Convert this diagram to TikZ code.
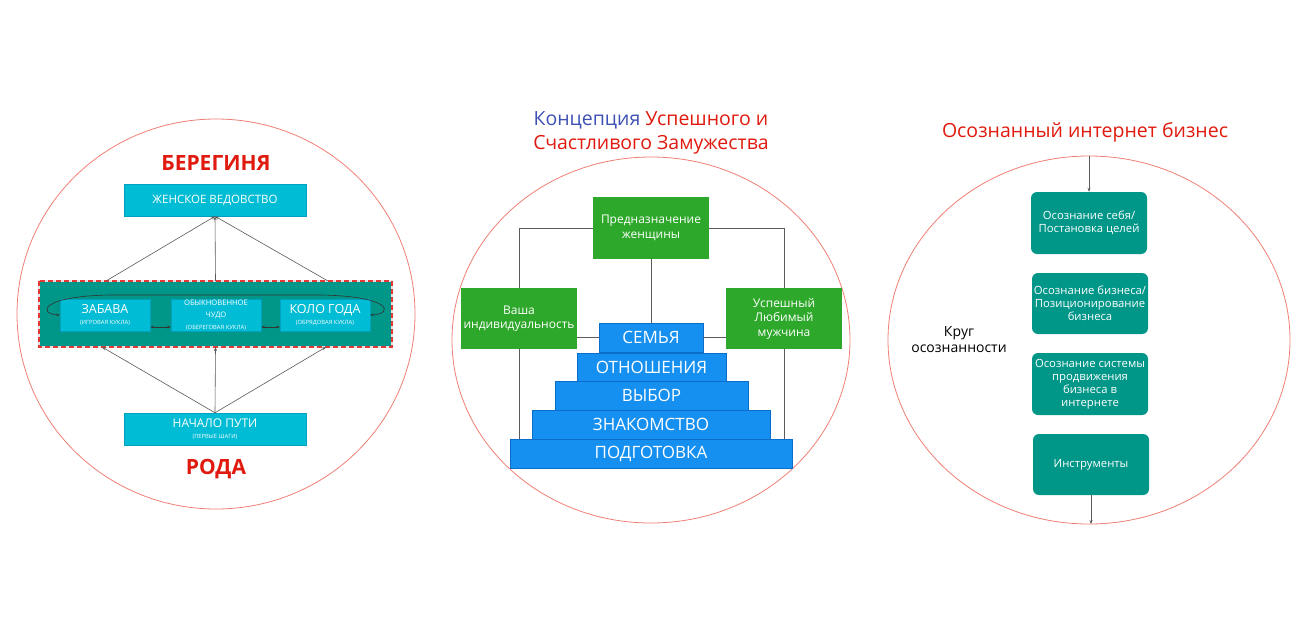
\documentclass[tikz,border=0pt]{standalone}
\usepackage{fontspec}
\setmainfont{Open Sans}
\usetikzlibrary{arrows.meta,calc}
\definecolor{circ}{RGB}{240,128,118}
\definecolor{cyanbox}{RGB}{0,188,212}
\definecolor{cyanedge}{RGB}{0,160,190}
\definecolor{tealbox}{RGB}{0,150,136}
\definecolor{dashred}{RGB}{229,57,53}
\definecolor{greenbox}{RGB}{46,168,42}
\definecolor{bluebox}{RGB}{22,144,240}
\definecolor{bluedge}{RGB}{10,110,200}
\definecolor{titlered}{RGB}{224,26,14}
\definecolor{titleblue}{RGB}{63,81,181}
\definecolor{linegray}{RGB}{90,90,90}
\newcommand\myfs[2]{\fontsize{#1}{#2}\selectfont}
\begin{document}
\begin{tikzpicture}[x=1pt,y=-1pt,
  ring/.style={draw=circ, line width=0.8pt},
  cbox/.style={rectangle, fill=cyanbox, draw=cyanedge, line width=0.5pt, text=white, align=center, inner sep=0pt},
  gbox/.style={rectangle, fill=greenbox, text=white, align=center, inner sep=0pt},
  bbox/.style={rectangle, fill=bluebox, draw=bluedge, line width=0.4pt, text=white, align=center, inner sep=0pt, font=\myfs{17}{20}},
  tbox/.style={rectangle, rounded corners=6pt, fill=tealbox, text=white, align=center, inner sep=0pt, minimum width=116pt, font=\myfs{11.3}{13}},
  conn/.style={draw=linegray, line width=0.7pt},
  arr/.style={draw=linegray, line width=0.6pt, -{Stealth[length=4pt,width=3pt]}},
  darr/.style={draw=black!80, line width=0.6pt, {Stealth[length=3.5pt,width=2.5pt]}-{Stealth[length=3.5pt,width=2.5pt]}},
  ttl/.style={align=center, inner sep=0pt}
]
\useasboundingbox (0,0) rectangle (1313,616);
\fill[white] (0,0) rectangle (1313,616);

% ---------- circles ----------
\draw[ring] (216,314) ellipse (199 and 195);
\draw[ring] (651,340) ellipse (199 and 183);
\draw[ring] (1089,340) ellipse (201 and 184);

% ---------- left diagram ----------
\node[ttl, text=titlered, font=\myfs{21}{24}\bfseries] (ber) at (216,163) {БЕРЕГИНЯ};
\node[cbox, minimum width=182pt, minimum height=32pt, font=\myfs{11.5}{13}] (wv) at (215,200) {ЖЕНСКОЕ ВЕДОВСТВО};
\node[rectangle, fill=tealbox, draw=black!10, line width=1.2pt, outer sep=0pt, minimum width=353pt, minimum height=66pt, inner sep=0pt] (cont) at (215.5,314) {};
\draw[dashred, line width=1.2pt, dash pattern=on 5pt off 3pt] (cont.north west) rectangle (cont.south east);
\node[cbox, minimum width=90pt, minimum height=32pt] (zab) at (105,315) {\myfs{12.5}{14}ЗАБАВА\\[-1pt]\myfs{5.8}{7}(ИГРОВАЯ КУКЛА)};
\node[cbox, minimum width=90pt, minimum height=32pt] (chu) at (216,315) {\myfs{7.6}{9}ОБЫКНОВЕННОЕ\\\myfs{7.6}{9}ЧУДО\\\myfs{5.8}{7}(ОБЕРЕГОВАЯ КУКЛА)};
\node[cbox, minimum width=90pt, minimum height=32pt] (kol) at (325,315) {\myfs{12.5}{14}КОЛО ГОДА\\[-1pt]\myfs{5.8}{7}(ОБРЯДОВАЯ КУКЛА)};
\node[cbox, minimum width=182pt, minimum height=32pt] (nac) at (215,429) {\myfs{12}{14}НАЧАЛО ПУТИ\\[-1pt]\myfs{5.8}{7}(ПЕРВЫЕ ШАГИ)};
\node[ttl, text=titlered, font=\myfs{21}{24}\bfseries] (rod) at (216,469) {РОДА};

\coordinate (t1) at (106,281);
\coordinate (t3) at (328,281);
\draw[arr] (t1) -- (wv.south);
\draw[arr] (cont.north) -- (wv.south);
\draw[arr] (t3) -- (wv.south);

\coordinate (b1) at (102,347);
\coordinate (b3) at (326,347);
\draw[arr] (nac.north) -- (b1);
\draw[arr] (nac.north) -- (cont.south);
\draw[arr] (nac.north) -- (b3);

\draw[darr] (zab.east |- 0,327) -- (chu.west |- 0,327);
\draw[darr] (chu.east |- 0,327) -- (kol.west |- 0,327);
\draw[darr] (zab.west) .. controls (38,314) and (40,296) .. (110,295) -- (320,295) .. controls (392,296) and (394,314) .. (kol.east);

% ---------- middle diagram ----------
\node[ttl, font=\myfs{19.5}{23.5}, text=titlered] (mt) at (651,133) {\textcolor{titleblue}{Концепция} Успешного и\\Счастливого Замужества};
\node[gbox, minimum width=116pt, minimum height=62pt, font=\myfs{12}{14.5}] (pn) at (651,228) {Предназначение\\женщины};
\node[gbox, minimum width=116pt, minimum height=61pt, font=\myfs{12}{14.5}] (ind) at (519,318.5) {Ваша\\индивидуальность};
\node[gbox, minimum width=116pt, minimum height=61pt, font=\myfs{12}{14.5}] (man) at (784,318.5) {Успешный\\Любимый\\мужчина};
\node[bbox, minimum width=104pt, minimum height=29pt] (sem) at (651,337.5) {СЕМЬЯ};
\node[bbox, minimum width=149pt, minimum height=28.5pt] (otn) at (651.5,367) {ОТНОШЕНИЯ};
\node[bbox, minimum width=193pt, minimum height=29pt] (vyb) at (651.5,395.5) {ВЫБОР};
\node[bbox, minimum width=238pt, minimum height=29pt] (zna) at (651,424.5) {ЗНАКОМСТВО};
\node[bbox, minimum width=282pt, minimum height=29pt] (pod) at (651,453.5) {ПОДГОТОВКА};

\draw[conn] (pn.west) -| (ind.north);
\draw[conn] (pn.east) -| (man.north);
\draw[conn] (pn.south) -- (sem.north);
\draw[conn] (ind.east |- sem.west) -- (sem.west);
\draw[conn] (sem.east) -- (man.west |- sem.east);
\draw[conn] (ind.south) -- (ind.south |- pod.north);
\draw[conn] (man.south) -- (man.south |- pod.north);

% ---------- right diagram ----------
\node[ttl, text=titlered, font=\myfs{19.5}{23}] (rt) at (1085,132) {Осознанный интернет бизнес};
\node[tbox, minimum height=62pt] (r1) at (1089,223) {Осознание себя/\\Постановка целей};
\node[tbox, minimum height=61pt] (r2) at (1090,303.5) {Осознание бизнеса/\\Позиционирование\\бизнеса};
\node[tbox, minimum height=62pt] (r3) at (1090,384) {Осознание системы\\продвижения\\бизнеса в\\интернете};
\node[tbox, minimum height=61pt] (r4) at (1091,464.5) {Инструменты};
\node[ttl, font=\myfs{14}{16}] (krug) at (959,340) {Круг\\осознанности};
\coordinate (rtop) at (1089,156);
\coordinate (rbot) at (1091,524);
\draw[arr] (rtop) -- (r1.north);
\draw[arr] (r4.south) -- (rbot);
\end{tikzpicture}
\end{document}
